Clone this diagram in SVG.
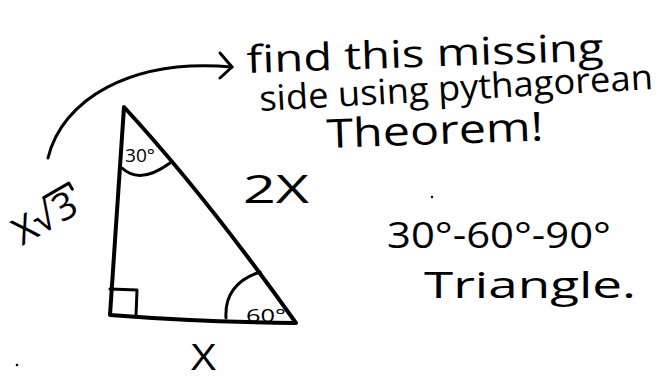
<svg xmlns="http://www.w3.org/2000/svg" width="668" height="382" viewBox="0 0 668 382">
<style>
.ink{fill:none;stroke:#000;stroke-linecap:round;stroke-linejoin:round}
.thick{stroke-width:4}
.thin{stroke-width:3}
.hand{font-family:"Open Sans","DejaVu Sans",sans-serif;fill:#000}
</style>
<rect width="668" height="382" fill="#fff"/>
<g id="connectors">
<path class="ink thin" d="M48,158 C62,100 130,58 232,67"/>
<path class="ink thin" d="M220,53 L232,67 L220,78"/>
</g>
<g id="triangle">
<path class="ink thick" d="M124,107 L110,315 Q200,322 296,323 Q205,195 124,107 Z"/>
<path class="ink thin" d="M110,289 L137,290 L136,316"/>
<path class="ink thin" d="M122,168 Q140,185 170,163"/>
<path class="ink thin" d="M260,272 Q224,284 226,318"/>
<text class="hand" x="125" y="162" font-size="18" textLength="30" lengthAdjust="spacingAndGlyphs">30°</text>
<text class="hand" x="246" y="322" font-size="19" textLength="40" lengthAdjust="spacingAndGlyphs">60°</text>
</g>
<g id="label-hyp">
<text class="hand" x="243" y="203" font-size="39" textLength="66" lengthAdjust="spacingAndGlyphs">2X</text>
</g>
<g id="label-leg">
<g transform="translate(22,246) rotate(-30)">
<text class="hand" font-size="38"><tspan x="0" y="0">X</tspan><tspan x="22" y="0">√</tspan><tspan x="46" y="0">3</tspan></text>
<path class="ink thin" d="M43,-31 L72,-31 L72,-24"/>
</g>
</g>
<g id="label-base">
<text class="hand" x="191" y="370" font-size="36" textLength="25" lengthAdjust="spacingAndGlyphs">X</text>
</g>
<g id="note">
<text class="hand" x="247" y="73" font-size="38" textLength="357" lengthAdjust="spacingAndGlyphs" transform="rotate(-2 247 73)">find this missing</text>
<text class="hand" x="260" y="111" font-size="35" textLength="394" lengthAdjust="spacingAndGlyphs" transform="rotate(-3.2 260 111)">side using pythagorean</text>
<text class="hand" x="327" y="148" font-size="40" textLength="217" lengthAdjust="spacingAndGlyphs" transform="rotate(-2 327 148)">Theorem!</text>
</g>
<g id="title">
<text class="hand" x="387" y="248" font-size="36" textLength="224" lengthAdjust="spacingAndGlyphs">30°-60°-90°</text>
<text class="hand" x="424" y="298" font-size="37" textLength="212" lengthAdjust="spacingAndGlyphs">Triangle.</text>
</g>
<circle cx="17" cy="365" r="1.3" fill="#000"/>
<circle cx="432" cy="197" r="1.2" fill="#000"/>
</svg>
